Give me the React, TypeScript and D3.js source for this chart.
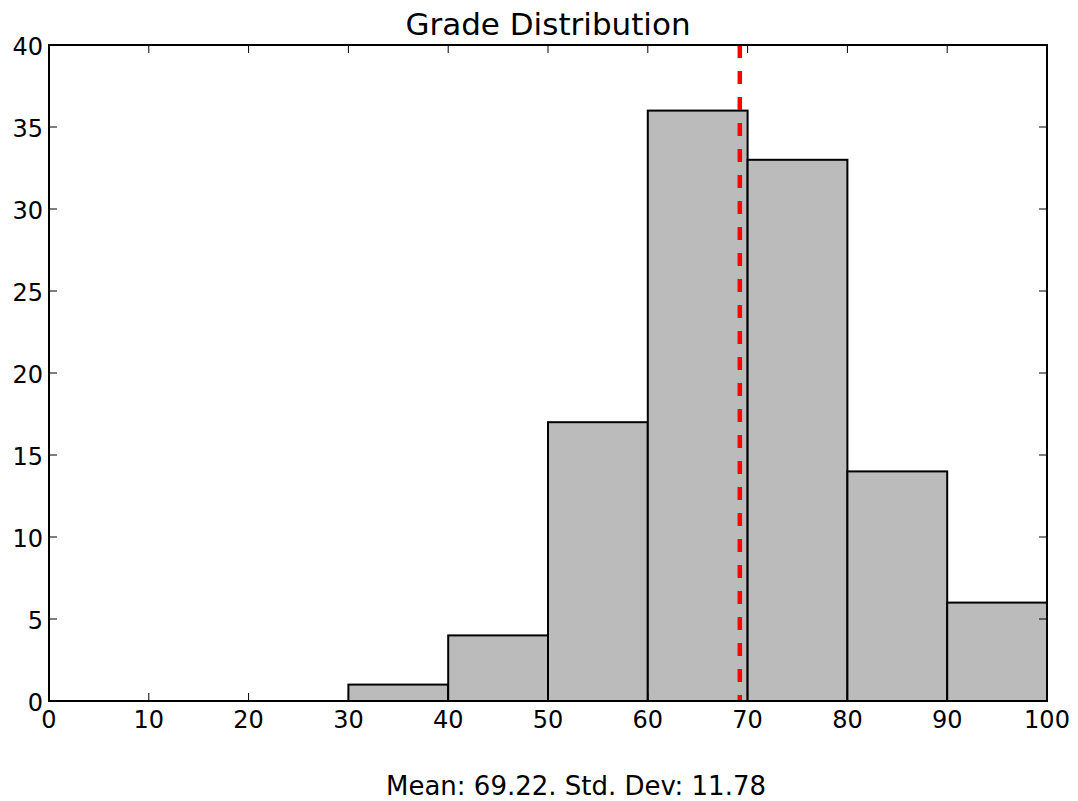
import React, { useEffect, useRef } from 'react';
import * as d3 from 'd3';

const binStarts = [0, 10, 20, 30, 40, 50, 60, 70, 80, 90];
const binCounts = [0, 0, 0, 1, 4, 17, 36, 33, 14, 6];
const binWidth = 10;
const meanGrade = 69.22;
const stdDev = 11.78;
const xTicks = [0, 10, 20, 30, 40, 50, 60, 70, 80, 90, 100];
const yTicks = [0, 5, 10, 15, 20, 25, 30, 35, 40];

const App: React.FC = () => {
  const chartRef = useRef<SVGSVGElement | null>(null);

  useEffect(() => {
    const width = 1078;
    const height = 801;
    const margin = { top: 45, right: 31, bottom: 100, left: 49 };
    const font = 'DejaVu Sans, sans-serif';

    const svg = d3.select(chartRef.current)
      .attr('width', width)
      .attr('height', height);
    svg.selectAll('*').remove();

    const x = d3.scaleLinear().domain([0, 100]).range([margin.left, width - margin.right]);
    const y = d3.scaleLinear().domain([0, 40]).range([height - margin.bottom, margin.top]);

    svg.append('rect')
      .attr('width', width)
      .attr('height', height)
      .attr('fill', '#ffffff');

    // histogram bars
    svg.append('g')
      .selectAll('rect')
      .data(binStarts.map((s, i) => ({ start: s, count: binCounts[i] })))
      .enter().append('rect')
      .attr('x', d => x(d.start))
      .attr('y', d => y(d.count))
      .attr('width', d => x(d.start + binWidth) - x(d.start))
      .attr('height', d => y(0) - y(d.count))
      .attr('fill', '#bbbbbb')
      .attr('stroke', '#000000')
      .attr('stroke-width', 2);

    // mean line
    svg.append('line')
      .attr('x1', x(meanGrade))
      .attr('x2', x(meanGrade))
      .attr('y1', y(40))
      .attr('y2', y(0))
      .attr('stroke', '#ff0000')
      .attr('stroke-width', 4.5)
      .attr('stroke-dasharray', '13,13');

    // inward ticks on all four sides
    const tickLen = 8;
    const ticks = svg.append('g').attr('stroke', '#000').attr('stroke-width', 1);
    xTicks.forEach(t => {
      ticks.append('line').attr('x1', x(t)).attr('x2', x(t)).attr('y1', y(0)).attr('y2', y(0) - tickLen);
      ticks.append('line').attr('x1', x(t)).attr('x2', x(t)).attr('y1', y(40)).attr('y2', y(40) + tickLen);
    });
    yTicks.forEach(t => {
      ticks.append('line').attr('x1', x(0)).attr('x2', x(0) + tickLen).attr('y1', y(t)).attr('y2', y(t));
      ticks.append('line').attr('x1', x(100)).attr('x2', x(100) - tickLen).attr('y1', y(t)).attr('y2', y(t));
    });

    // frame
    svg.append('rect')
      .attr('x', x(0))
      .attr('y', y(40))
      .attr('width', x(100) - x(0))
      .attr('height', y(0) - y(40))
      .attr('fill', 'none')
      .attr('stroke', '#000')
      .attr('stroke-width', 2);

    // tick labels
    svg.append('g')
      .selectAll('text')
      .data(xTicks)
      .enter().append('text')
      .attr('x', d => x(d))
      .attr('y', y(0) + 27)
      .attr('text-anchor', 'middle')
      .style('font-family', font)
      .style('font-size', '24px')
      .text(d => d.toString());

    svg.append('g')
      .selectAll('text')
      .data(yTicks)
      .enter().append('text')
      .attr('x', x(0) - 6)
      .attr('y', d => y(d) + 10)
      .attr('text-anchor', 'end')
      .style('font-family', font)
      .style('font-size', '24px')
      .text(d => d.toString());

    svg.append('text')
      .attr('x', (x(0) + x(100)) / 2)
      .attr('y', 35)
      .attr('text-anchor', 'middle')
      .style('font-family', font)
      .style('font-size', '31px')
      .text('Grade Distribution');

    svg.append('text')
      .attr('x', (x(0) + x(100)) / 2 + 28)
      .attr('y', 795)
      .attr('text-anchor', 'middle')
      .style('font-family', font)
      .style('font-size', '26px')
      .text(`Mean: ${meanGrade.toFixed(2)}. Std. Dev: ${stdDev.toFixed(2)}`);
  }, []);

  return (
    <svg ref={chartRef} style={{ position: 'absolute', left: 0, top: 0, display: 'block' }}></svg>
  );
};

export default App;
